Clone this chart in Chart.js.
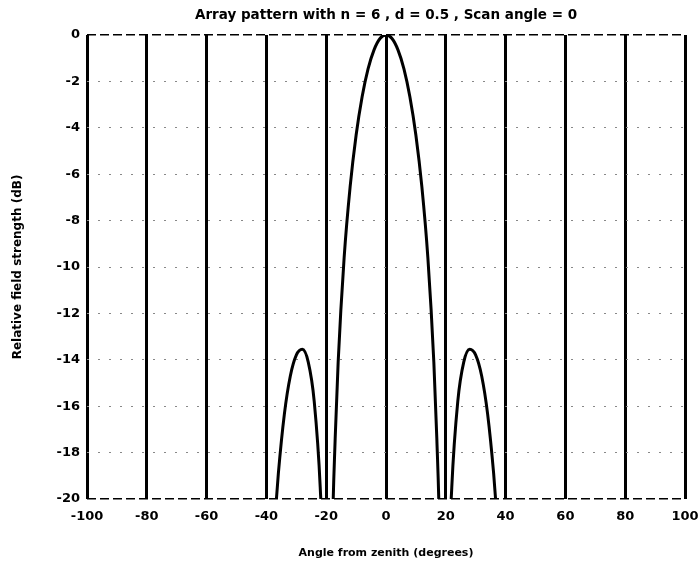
<!DOCTYPE html>
<html>
<head>
<meta charset="utf-8">
<title>Array pattern</title>
<script src="https://cdn.jsdelivr.net/npm/chart.js@4.4.1/dist/chart.umd.min.js"></script>
<style>
    body { margin: 0; background: #fff; }
    #wrap { width: 698px; height: 566px; }
</style>
</head>
<body>
<div id="wrap"><canvas id="patternChart" width="698" height="566"></canvas></div>
<script>
// Angle from zenith (degrees)
const angles = [-41.8, -40, -38, -37, -36, -34, -32, -30, -28, -26, -24, -22, -21, -19.5, -18, -17, -16, -14, -12, -10, -8, -6, -4, -2,
    0, 2, 4, 6, 8, 10, 12, 14, 16, 17, 18, 19.5, 21, 22, 24, 26, 28, 30, 32, 34, 36, 37, 38, 40, 41.8];
// Relative field strength (dB); values below -20 fall off the bottom of the plot
const fieldDb = [-40, -30, -22.6, -20.6, -18.9, -16.35, -14.7, -13.8, -13.55, -14.1, -15.8, -19.5, -23.3, -40, -22.2, -17.4, -14.1, -9.6, -6.55, -4.32, -2.67, -1.46, -0.64, -0.15,
    0, -0.15, -0.64, -1.46, -2.67, -4.32, -6.55, -9.6, -14.1, -17.4, -22.2, -40, -23.3, -19.5, -15.8, -14.1, -13.55, -13.8, -14.7, -16.35, -18.9, -20.6, -22.6, -30, -40];

const xTicks = [-100, -80, -60, -40, -20, 0, 20, 40, 60, 80, 100];
const yTicks = [0, -2, -4, -6, -8, -10, -12, -14, -16, -18, -20];

const points = angles.map((a, i) => ({ x: a, y: fieldDb[i] }));
const ctx = document.getElementById('patternChart').getContext('2d');
const fontFamily = '"DejaVu Sans", sans-serif';

// top and bottom frame lines are dashed black, the rest are sparse grey dots
const isEdge = c => c.tick && (c.tick.value === 0 || c.tick.value === -20);

new Chart(ctx, {
    type: 'line',
    data: {
        datasets: [{
            data: points,
            borderColor: '#000',
            borderWidth: 3,
            pointRadius: 0,
            cubicInterpolationMode: 'monotone',
            fill: false
        }]
    },
    options: {
        responsive: false,
        animation: false,
        layout: { padding: { left: 0, right: 13, top: 0, bottom: 0 } },
        plugins: {
            legend: { display: false },
            tooltip: { enabled: false },
            title: {
                display: true,
                fullSize: false,
                text: 'Array pattern with n = 6 , d = 0.5 , Scan angle = 0',
                color: '#000',
                font: { family: fontFamily, size: 13.5, weight: 'bold' },
                padding: { top: 7, bottom: 11.8 }
            }
        },
        scales: {
            x: {
                type: 'linear',
                min: -100,
                max: 100,
                afterBuildTicks: scale => { scale.ticks = xTicks.map(v => ({ value: v })); },
                afterFit: scale => {
                    scale.height = 67;
                    // let the "100" label hang into the right margin
                    scale.paddingRight = 0;
                },
                ticks: {
                    color: '#000',
                    padding: 10,
                    font: { family: fontFamily, size: 13, weight: 'bold' },
                    maxRotation: 0
                },
                grid: { color: '#000', lineWidth: 3, drawTicks: false },
                border: { display: false, dash: [] },
                title: {
                    display: true,
                    text: 'Angle from zenith (degrees)',
                    color: '#000',
                    font: { family: fontFamily, size: 11, weight: 'bold' },
                    padding: { top: 0, bottom: 6 }
                }
            },
            y: {
                min: -20,
                max: 0,
                afterBuildTicks: scale => { scale.ticks = yTicks.map(v => ({ value: v })); },
                afterFit: scale => { scale.width = 87; },
                ticks: {
                    color: '#000',
                    padding: 7,
                    font: { family: fontFamily, size: 13, weight: 'bold' }
                },
                grid: {
                    drawTicks: false,
                    color: c => isEdge(c) ? '#000' : '#888',
                    lineWidth: c => isEdge(c) ? 1.5 : 1
                },
                border: {
                    display: false,
                    dash: c => isEdge(c) ? [9, 4] : [2, 9]
                },
                title: {
                    display: true,
                    text: 'Relative field strength (dB)',
                    color: '#000',
                    font: { family: fontFamily, size: 12, weight: 'bold' },
                    padding: { top: 11, bottom: 0 }
                }
            }
        }
    }
});
</script>
</body>
</html>
